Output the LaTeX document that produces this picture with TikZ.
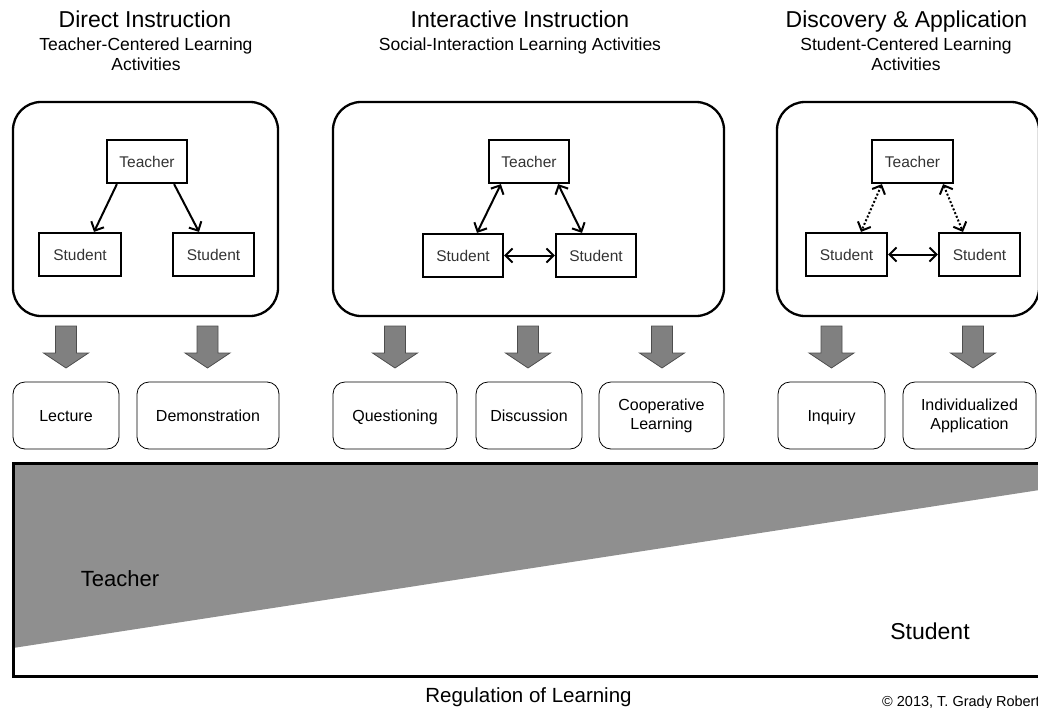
\documentclass[tikz,border=0pt]{standalone}
\usepackage{fontspec}
\setmainfont{Liberation Sans}
\usetikzlibrary{arrows.meta,calc}
\definecolor{wedgegray}{HTML}{8F8F8F}
\definecolor{arrowgray}{HTML}{808080}
\definecolor{arrowedge}{HTML}{4D4D4D}
\definecolor{handtext}{HTML}{333333}
\begin{document}
\begin{tikzpicture}[x=1pt,y=-1pt,
  panel/.style={draw, line width=2.3pt, rounded corners=28pt, minimum height=214pt, inner sep=0pt},
  person/.style={draw, line width=2.2pt, minimum height=43pt, minimum width=80pt, inner sep=0pt,
    text=handtext, font=\fontsize{15.5}{18}\selectfont, text height=11pt, text depth=0pt},
  act/.style={draw, line width=0.8pt, rounded corners=12pt, minimum height=67pt, inner sep=0pt,
    align=center, font=\fontsize{16}{19}\selectfont},
  oneline/.style={text height=12pt, text depth=0pt},
  title/.style={anchor=base, font=\fontsize{23}{26}\selectfont},
  subtitle/.style={anchor=base, align=center, font=\fontsize{17.5}{20}\selectfont},
  link/.style={-{Straight Barb[length=7pt,width=14pt]}, line width=2pt},
  dlink/.style={{Straight Barb[length=7pt,width=14pt]}-{Straight Barb[length=7pt,width=14pt]}, line width=2pt},
  dotlink/.style={dlink, dash pattern=on 2pt off 2pt},
  bigarrow/.pic={\filldraw[fill=arrowgray, draw=arrowedge, line width=0.8pt]
    (-10.5,0) -- (10.5,0) -- (10.5,27) -- (22.5,27) -- (0,42) -- (-22.5,27) -- (-10.5,27) -- cycle;}
]
\useasboundingbox (0,0) rectangle (1038,707);

% titles (subtitle anchors at the baseline of their last line)
\node[title] (t1) at (145,27) {Direct Instruction};
\node[subtitle] (st1) at (146,70) {Teacher-Centered Learning\\Activities};
\node[title] (t2) at (520,27) {Interactive Instruction};
\node[subtitle] (st2) at (520,50) {Social-Interaction Learning Activities};
\node[title] (t3) at (906.5,27) {Discovery \& Application};
\node[subtitle] (st3) at (906,70) {Student-Centered Learning\\Activities};

% panels
\node[panel, minimum width=265pt] (p1) at (145.5,209) {};
\node[panel, minimum width=391pt] (p2) at (528.5,209) {};
\node[panel, minimum width=262pt] (p3) at (908,209) {};

% panel 1
\node[person] (T1) at (147,161.5) {Teacher};
\node[person, minimum width=82pt] (S1a) at (80,254.5) {Student};
\node[person, minimum width=81pt] (S1b) at (213.5,254.5) {Student};
\draw[link] ($(T1.south west)+(11,0)$) -- ($(S1a.north)+(14,0)$);
\draw[link] ($(T1.south east)+(-14,0)$) -- ($(S1b.north)+(-14.5,0)$);

% panel 2
\node[person] (T2) at (529,161.5) {Teacher};
\node[person] (S2a) at (463,255.5) {Student};
\node[person] (S2b) at (596,255.5) {Student};
\draw[dlink] ($(T2.south west)+(13,0)$) -- ($(S2a.north)+(14,0)$);
\draw[dlink] ($(T2.south east)+(-12,0)$) -- ($(S2b.north)+(-14,0)$);
\draw[dlink] (S2a) -- (S2b);

% panel 3
\node[person, minimum width=81pt] (T3) at (912.5,161.5) {Teacher};
\node[person, minimum width=81pt] (S3a) at (846.5,254.5) {Student};
\node[person, minimum width=81pt] (S3b) at (979.5,254.5) {Student};
\draw[dotlink] ($(T3.south west)+(11,0)$) -- ($(S3a.north)+(14.5,0)$);
\draw[dotlink] ($(T3.south east)+(-11,0)$) -- ($(S3b.north)+(-16.5,0)$);
\draw[dlink] (S3a) -- (S3b);

% block arrows
\foreach \ax in {66,207.5,395,528,662,831.5,973}
  \pic at (\ax,326) {bigarrow};

% activities
\node[act, oneline, minimum width=106pt] (a1) at (66,415.5) {Lecture};
\node[act, oneline, minimum width=142pt] (a2) at (208,415.5) {Demonstration};
\node[act, oneline, minimum width=124pt] (a3) at (395,415.5) {Questioning};
\node[act, oneline, minimum width=106pt] (a4) at (529,415.5) {Discussion};
\node[act, minimum width=125pt] (a5) at (661.5,415.5) {Cooperative\\Learning};
\node[act, oneline, minimum width=107pt] (a6) at (831.5,415.5) {Inquiry};
\node[act, minimum width=133pt] (a7) at (969.5,415.5) {Individualized\\Application};

% regulation band
\fill[wedgegray] (13,463) -- (1046,463) -- (1046,489) -- (13,648) -- cycle;
\draw[line width=3pt] (13,463) rectangle (1046,676);
\node[font=\fontsize{22}{26}\selectfont] (tch) at (120,579) {Teacher};
\node[font=\fontsize{23}{26}\selectfont] (std) at (930,631) {Student};
\node[anchor=base, font=\fontsize{20.5}{24}\selectfont] (reg) at (528.5,702) {Regulation of Learning};
\node[anchor=base west, inner sep=0pt, font=\fontsize{14.5}{17}\selectfont] (copy) at (882,706) {© 2013, T. Grady Roberts};
\end{tikzpicture}
\end{document}
